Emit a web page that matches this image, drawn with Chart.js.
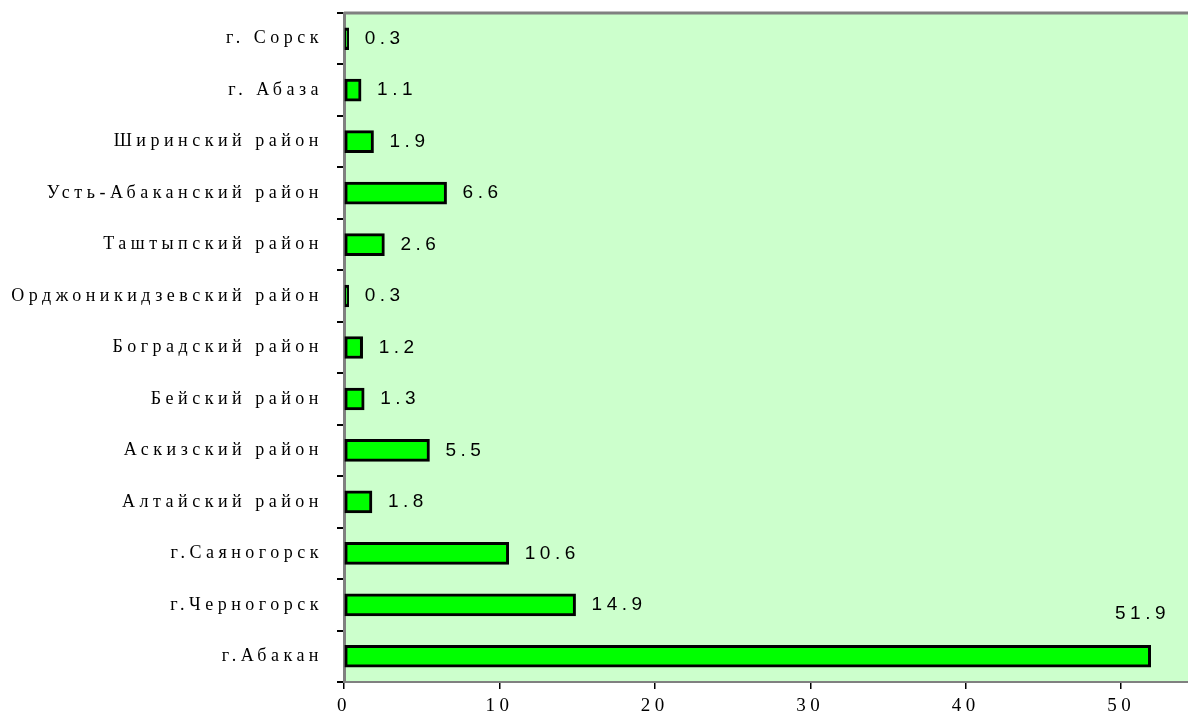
<!DOCTYPE html>
<html>
<head>
<meta charset="utf-8">
<script src="https://cdn.jsdelivr.net/npm/chart.js@4/dist/chart.umd.min.js"></script>
<style>
  html, body { margin: 0; padding: 0; background: #fff; }
  #wrap { width: 1188px; height: 720px; }
</style>
</head>
<body>
<div id="wrap"><canvas id="chart" width="1188" height="720"></canvas></div>
<script>
// districts, top to bottom as in the picture
const districts = [
  "г. Сорск",
  "г. Абаза",
  "Ширинский район",
  "Усть-Абаканский район",
  "Таштыпский район",
  "Орджоникидзевский район",
  "Боградский район",
  "Бейский район",
  "Аскизский район",
  "Алтайский район",
  "г.Саяногорск",
  "г.Черногорск",
  "г.Абакан"
];
const shares = [0.3, 1.1, 1.9, 6.6, 2.6, 0.3, 1.2, 1.3, 5.5, 1.8, 10.6, 14.9, 51.9];
const axisMax = 54.3;
const axisStep = 10;

const SERIF = "'Liberation Serif', 'Times New Roman', serif";
const SANS = "'Liberation Sans', Arial, sans-serif";

// spaced-out letters like the original
const spacing = {
  id: "spacing",
  beforeLayout(chart) { chart.ctx.letterSpacing = "4.5px"; },
  beforeDraw(chart) { chart.ctx.letterSpacing = "4.5px"; }
};

const plotBg = {
  id: "plotBg",
  beforeDraw(chart) {
    const { ctx, chartArea: a } = chart;
    ctx.save();
    ctx.fillStyle = "#CCFFCC";
    ctx.fillRect(a.left, a.top, a.right - a.left, a.bottom - a.top);
    ctx.strokeStyle = "#808080";
    ctx.lineWidth = 3;
    ctx.beginPath();
    ctx.moveTo(a.left, a.top);
    ctx.lineTo(a.right, a.top);
    ctx.stroke();
    ctx.restore();
  }
};

const valueLabels = {
  id: "valueLabels",
  afterDatasetsDraw(chart) {
    const { ctx, chartArea: a } = chart;
    const meta = chart.getDatasetMeta(0);
    ctx.save();
    ctx.font = "19px " + SANS;
    ctx.letterSpacing = "4.5px";
    ctx.fillStyle = "#000";
    ctx.textBaseline = "middle";
    meta.data.forEach((bar, i) => {
      const txt = shares[i].toFixed(1);
      const w = ctx.measureText(txt).width;
      let x = bar.x + 16;
      let y = bar.y;
      if (x + w > a.right - 10) {
        // no room on the right: put it above the bar
        x = a.right - 18 - w;
        y = bar.y - 43;
      }
      ctx.textAlign = "left";
      ctx.fillText(txt, x, y);
    });
    ctx.restore();
  }
};

new Chart(document.getElementById("chart"), {
  type: "bar",
  data: {
    labels: districts,
    datasets: [{
      data: shares,
      backgroundColor: "#00FF00",
      borderColor: "#000000",
      borderWidth: 3,
      borderSkipped: false,
      barThickness: 22
    }]
  },
  options: {
    indexAxis: "y",
    responsive: false,
    animation: false,
    devicePixelRatio: 1,
    layout: { padding: { top: 13, right: 0, left: 0, bottom: 0 } },
    plugins: {
      legend: { display: false },
      tooltip: { enabled: false }
    },
    scales: {
      x: {
        min: 0,
        max: axisMax,
        afterFit(scale) { scale.height = 38; },
        ticks: {
          stepSize: axisStep,
          includeBounds: false,
          color: "#000",
          font: { family: SERIF, size: 19 },
          padding: 6
        },
        grid: {
          drawOnChartArea: false,
          drawTicks: true,
          tickLength: 7,
          color: "#000",
          lineWidth: 1.5
        },
        border: { display: true, color: "#808080", width: 2 }
      },
      y: {
        afterFit(scale) {
          scale.width = 344;
          scale.paddingTop = 0;
          scale.paddingBottom = 0;
        },
        ticks: {
          color: "#000",
          font: { family: SERIF, size: 18 },
          padding: 14
        },
        grid: {
          offset: true,
          drawOnChartArea: false,
          drawTicks: true,
          tickLength: 7,
          color: "#000",
          lineWidth: 2
        },
        border: { display: true, color: "#808080", width: 3 }
      }
    }
  },
  plugins: [spacing, plotBg, valueLabels]
});
</script>
</body>
</html>
